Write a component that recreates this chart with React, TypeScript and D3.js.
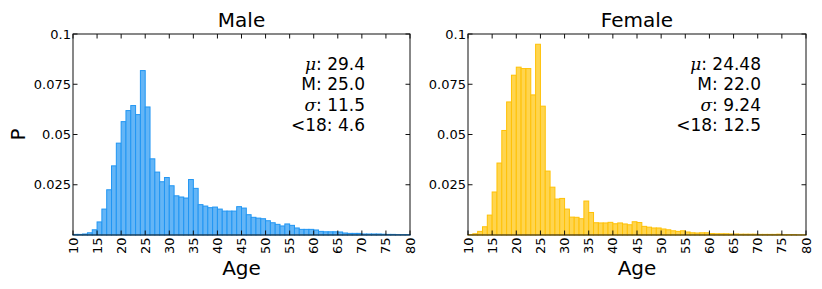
import * as d3 from "d3";

// 1-year bins, ages 10..79
const ages = d3.range(10, 80);

const maleValues = [
  0.0003, 0.0003, 0.0005, 0.0011, 0.0026, 0.0065, 0.0129, 0.0225, 0.0344, 0.0457,
  0.0564, 0.0619, 0.0644, 0.0599, 0.0818, 0.0637, 0.0379, 0.0313, 0.0265, 0.0286,
  0.0245, 0.0195, 0.0189, 0.0184, 0.0276, 0.0232, 0.0151, 0.0144, 0.0136, 0.0139,
  0.0129, 0.0119, 0.0119, 0.0119, 0.0141, 0.0134, 0.0101, 0.0088, 0.0084, 0.0081,
  0.0071, 0.0061, 0.0053, 0.0045, 0.0055, 0.0048, 0.0035, 0.0028, 0.0028, 0.0028,
  0.0025, 0.0018, 0.0016, 0.0016, 0.0016, 0.0015, 0.001, 0.0008, 0.0008, 0.0008,
  0.0005, 0.0005, 0.0005, 0.0005, 0.0004, 0.0003, 0.0003, 0.0002, 0.0002, 0.0002,
];

const femaleValues = [
  0.0002, 0.0006, 0.0018, 0.0041, 0.0099, 0.0214, 0.0358, 0.052, 0.0662, 0.0795,
  0.0835, 0.0828, 0.0828, 0.0697, 0.0949, 0.0641, 0.0318, 0.0238, 0.0179, 0.0182,
  0.0129, 0.0089, 0.0088, 0.0081, 0.0169, 0.0112, 0.0061, 0.006, 0.006, 0.0063,
  0.0056, 0.006, 0.0055, 0.0051, 0.0066, 0.0062, 0.0043, 0.0039, 0.0035, 0.0035,
  0.003, 0.0026, 0.0021, 0.0018, 0.0021, 0.0015, 0.0011, 0.001, 0.0011, 0.0011,
  0.0007, 0.0006, 0.0006, 0.0006, 0.0005, 0.0005, 0.0004, 0.0004, 0.0004, 0.0004,
  0.0003, 0.0003, 0.0003, 0.0003, 0.0004, 0.0002, 0.0002, 0.0002, 0.0001, 0.0001,
];

const xTicks = d3.range(10, 81, 5);
const yTicks = [0.025, 0.05, 0.075, 0.1];
const yTickLabels = ["0.025", "0.05", "0.075", "0.1"];

const maleStats = [
  { sym: "\u03bc", text: ": 29.4" },
  { sym: "", text: "M: 25.0" },
  { sym: "\u03c3", text: ": 11.5" },
  { sym: "", text: "<18: 4.6" },
];
const femaleStats = [
  { sym: "\u03bc", text: ": 24.48" },
  { sym: "", text: "M: 22.0" },
  { sym: "\u03c3", text: ": 9.24" },
  { sym: "", text: "<18: 12.5" },
];

const font = "DejaVu Sans, sans-serif";
const top = 34;
const bottom = 235;

function Panel({ x0, x1, title, values, fill, stroke, stats, showYLabel }) {
  const x = d3.scaleLinear().domain([10, 80]).range([x0, x1]);
  const y = d3.scaleLinear().domain([0, 0.1]).range([bottom, top]);
  const tickLen = 4.5;

  return (
    <g>
      {ages.map((a, i) => (
        <rect
          key={a}
          x={x(a)}
          y={y(values[i])}
          width={x(a + 1) - x(a)}
          height={y(0) - y(values[i])}
          fill={fill}
          stroke={stroke}
          strokeWidth={1}
        />
      ))}
      <rect x={x0} y={top} width={x1 - x0} height={bottom - top} fill="none" stroke="#111" strokeWidth={1} />
      {xTicks.map((t) => (
        <g key={t}>
          <line x1={x(t)} x2={x(t)} y1={bottom} y2={bottom - tickLen} stroke="#111" />
          <line x1={x(t)} x2={x(t)} y1={top} y2={top + tickLen} stroke="#111" />
          <text
            transform={`translate(${x(t)},${bottom + 2.5}) rotate(-90)`}
            textAnchor="end"
            dominantBaseline="central"
            fontFamily={font}
            fontSize={13}
          >
            {t}
          </text>
        </g>
      ))}
      {yTicks.map((t, i) => (
        <g key={t}>
          <line x1={x0} x2={x0 + tickLen} y1={y(t)} y2={y(t)} stroke="#111" />
          <line x1={x1} x2={x1 - tickLen} y1={y(t)} y2={y(t)} stroke="#111" />
          <text x={x0 - 2} y={y(t)} textAnchor="end" dominantBaseline="central" fontFamily={font} fontSize={13}>
            {yTickLabels[i]}
          </text>
        </g>
      ))}
      <text x={(x0 + x1) / 2} y={27} textAnchor="middle" fontFamily={font} fontSize={20}>
        {title}
      </text>
      <text x={(x0 + x1) / 2} y={275} textAnchor="middle" fontFamily={font} fontSize={20}>
        Age
      </text>
      {showYLabel && (
        <text
          transform={`translate(18,${(top + bottom) / 2}) rotate(-90)`}
          textAnchor="middle"
          dominantBaseline="central"
          fontFamily={font}
          fontSize={20}
        >
          P
        </text>
      )}
      {stats.map((s, i) => (
        <text key={i} x={x1 - 45} y={70 + i * 20.4} textAnchor="end" fontFamily={font} fontSize={17}>
          {s.sym && (
            <tspan fontFamily="DejaVu Serif, serif" fontStyle="italic">
              {s.sym}
            </tspan>
          )}
          {s.text}
        </text>
      ))}
    </g>
  );
}

export default function App() {
  return (
    <svg
      width={822}
      height={289}
      style={{ position: "absolute", left: 0, top: 0, background: "#fff" }}
    >
      <Panel
        x0={73}
        x1={410}
        title="Male"
        values={maleValues}
        fill="#64B5F6"
        stroke="#2196F3"
        stats={maleStats}
        showYLabel={true}
      />
      <Panel
        x0={468}
        x1={806}
        title="Female"
        values={femaleValues}
        fill="#FFD54F"
        stroke="#FFC107"
        stats={femaleStats}
        showYLabel={false}
      />
    </svg>
  );
}
